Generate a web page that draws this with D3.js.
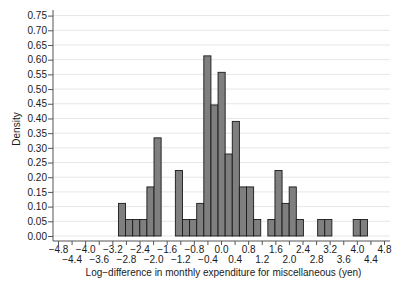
<!DOCTYPE html>
<html>
<head>
<meta charset="UTF-8">
<title>Histogram</title>
<script src="https://d3js.org/d3.v7.min.js"></script>
<style>
    body { margin: 0; padding: 0; background: #fff; }
    svg { display: block; font-family: "Liberation Sans", Arial, sans-serif; }
</style>
</head>
<body>
<svg id="chart" width="401" height="292"></svg>
<script>
// histogram bins (equal width, Stata style)
const binStart = -3.02;
const binWidth = 0.2095;
const density = [
    0.111, 0.056, 0.056, 0.056, 0.167, 0.334, 0, 0,
    0.223, 0.056, 0.056, 0.111, 0.613, 0.446, 0.557, 0.279,
    0.390, 0.167, 0.167, 0.056, 0, 0.056, 0.223, 0.111,
    0.167, 0.056, 0, 0, 0.056, 0.056, 0, 0, 0, 0.056, 0.056
];
const yTicks = [0, 0.05, 0.10, 0.15, 0.20, 0.25, 0.30, 0.35, 0.40, 0.45, 0.50, 0.55, 0.60, 0.65, 0.70, 0.75];
const xTicks = [-4.8, -4.4, -4.0, -3.6, -3.2, -2.8, -2.4, -2.0, -1.6, -1.2, -0.8, -0.4, 0, 0.4, 0.8, 1.2, 1.6, 2.0, 2.4, 2.8, 3.2, 3.6, 4.0, 4.4, 4.8];
const xTitle = "Log\u2212difference in monthly expenditure for miscellaneous (yen)";
const yTitle = "Density";

const bins = density.map((d, i) => ({ x0: binStart + i * binWidth, x1: binStart + (i + 1) * binWidth, d }))
    .filter(b => b.d > 0);

const svg = d3.select("#chart");
const plotLeft = 53, plotRight = 390, plotTop = 10, axisY = 241;

const x = d3.scaleLinear().domain([-4.8, 4.8]).range([58, 384]);
const y = d3.scaleLinear().domain([0, 0.75]).range([236, 15.6]);

const fmt = v => (v < 0 ? "\u2212" : "") + Math.abs(v).toFixed(1);

// gridlines
svg.append("g")
    .selectAll("line")
    .data(yTicks)
    .enter().append("line")
    .attr("x1", plotLeft).attr("x2", plotRight)
    .attr("y1", d => y(d)).attr("y2", d => y(d))
    .attr("stroke", "#e6e6e6")
    .attr("stroke-width", 1);

// bars
svg.append("g")
    .selectAll("rect")
    .data(bins)
    .enter().append("rect")
    .attr("x", b => x(b.x0))
    .attr("y", b => y(b.d))
    .attr("width", b => x(b.x1) - x(b.x0))
    .attr("height", b => y(0) - y(b.d))
    .attr("fill", "#7f7f7f")
    .attr("stroke", "#1a1a1a")
    .attr("stroke-width", 0.9);

// y axis
const yAxis = svg.append("g")
    .attr("transform", `translate(${plotLeft},0)`)
    .call(d3.axisLeft(y).tickValues(yTicks).tickFormat(d3.format(".2f")).tickSize(5).tickSizeOuter(0));
yAxis.select(".domain").remove();
yAxis.append("line")
    .attr("x1", 0).attr("x2", 0)
    .attr("y1", plotTop).attr("y2", axisY)
    .attr("stroke", "#555");
yAxis.selectAll(".tick line").attr("stroke", "#555");
yAxis.selectAll(".tick text")
    .attr("x", -6)
    .attr("fill", "#1a1a1a")
    .style("font-size", "10px")
    .style("font-family", "'Liberation Sans', Arial, sans-serif");

// x axis
const xAxis = svg.append("g")
    .attr("transform", `translate(0,${axisY})`)
    .call(d3.axisBottom(x).tickValues(xTicks).tickFormat(fmt).tickSize(4).tickSizeOuter(0));
xAxis.select(".domain").remove();
xAxis.append("line")
    .attr("x1", plotLeft).attr("x2", plotRight)
    .attr("y1", 0).attr("y2", 0)
    .attr("stroke", "#555");
xAxis.selectAll(".tick line").attr("stroke", "#555");
xAxis.selectAll(".tick text")
    .attr("y", (d, i) => i % 2 === 0 ? 5 : 14.5)
    .attr("dy", "0.71em")
    .attr("fill", "#1a1a1a")
    .style("font-size", "10px")
    .style("font-family", "'Liberation Sans', Arial, sans-serif");

// titles
svg.append("text")
    .attr("x", (plotLeft + plotRight) / 2 + 2)
    .attr("y", 276)
    .attr("text-anchor", "middle")
    .attr("fill", "#1a1a1a")
    .style("font-size", "10px")
    .text(xTitle);

svg.append("text")
    .attr("transform", "rotate(-90)")
    .attr("x", -129)
    .attr("y", 20)
    .attr("text-anchor", "middle")
    .attr("fill", "#1a1a1a")
    .style("font-size", "10px")
    .text(yTitle);
</script>
</body>
</html>
